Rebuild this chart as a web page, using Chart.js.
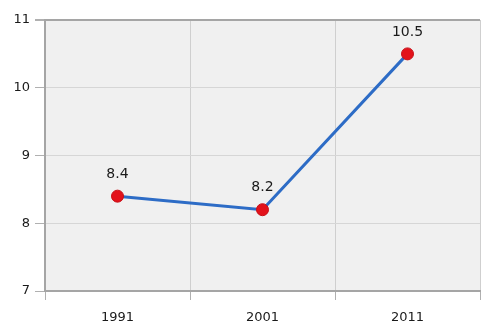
<!DOCTYPE html>
<html>
<head>
<meta charset="utf-8">
<script src="https://cdn.jsdelivr.net/npm/chart.js@4"></script>
<style>
  html, body { margin: 0; padding: 0; background: #fff; overflow: hidden; }
  #wrap { width: 484px; height: 323px; overflow: hidden; }
</style>
</head>
<body>
<div id="wrap"><canvas id="popChart" width="487" height="323"></canvas></div>
<script>
// data
const years = ['1991', '2001', '2011'];
const values = [8.4, 8.2, 10.5];
const yMin = 7;
const yMax = 11;

// grey plot background
const plotBg = {
    id: 'plotBg',
    beforeDraw(chart) {
        const a = chart.chartArea;
        const c = chart.ctx;
        c.save();
        c.fillStyle = '#f0f0f0';
        c.fillRect(a.left, a.top, a.right - a.left, a.bottom - a.top);
        c.restore();
    }
};

// value labels above the points
const valueLabels = {
    id: 'valueLabels',
    afterDatasetsDraw(chart) {
        const c = chart.ctx;
        const meta = chart.getDatasetMeta(0);
        c.save();
        c.font = '14px "DejaVu Sans"';
        c.fillStyle = '#1a1a1a';
        c.textAlign = 'center';
        c.textBaseline = 'middle';
        meta.data.forEach((pt, i) => {
            c.fillText(values[i].toFixed(1), pt.x, pt.y - 22);
        });
        c.restore();
    }
};

const ctx = document.getElementById('popChart');

new Chart(ctx, {
    type: 'line',
    data: {
        labels: years,
        datasets: [{
            data: values,
            borderColor: '#2d6cc6',
            borderWidth: 3,
            tension: 0,
            pointRadius: 6,
            pointBackgroundColor: '#e3121b',
            pointBorderColor: '#c80f17',
            pointBorderWidth: 1
        }]
    },
    options: {
        responsive: false,
        animation: false,
        layout: { padding: { top: 20, right: 0, left: 0, bottom: 0 } },
        plugins: { legend: { display: false }, tooltip: { enabled: false } },
        scales: {
            x: {
                offset: true,
                grid: {
                    offset: true,
                    color: '#cfcfcf',
                    lineWidth: 1,
                    tickLength: 9,
                    tickColor: '#b0b0b0'
                },
                border: { color: '#a5a5a5', width: 2 },
                ticks: {
                    color: '#1a1a1a',
                    padding: 10,
                    font: { family: 'DejaVu Sans', size: 13 }
                },
                afterFit(scale) { scale.height = 32; }
            },
            y: {
                min: yMin,
                max: yMax,
                ticks: {
                    stepSize: 1,
                    color: '#1a1a1a',
                    padding: 5,
                    font: { family: 'DejaVu Sans', size: 13 }
                },
                grid: {
                    color: c => c.tick && c.tick.value === yMax ? '#a5a5a5' : '#d6d6d6',
                    lineWidth: c => c.tick && c.tick.value === yMax ? 2 : 1,
                    tickLength: 10,
                    tickColor: '#b0b0b0'
                },
                border: { color: '#a5a5a5', width: 2 },
                afterFit(scale) { scale.width = 45; }
            }
        }
    },
    plugins: [plotBg, valueLabels]
});
</script>
</body>
</html>
